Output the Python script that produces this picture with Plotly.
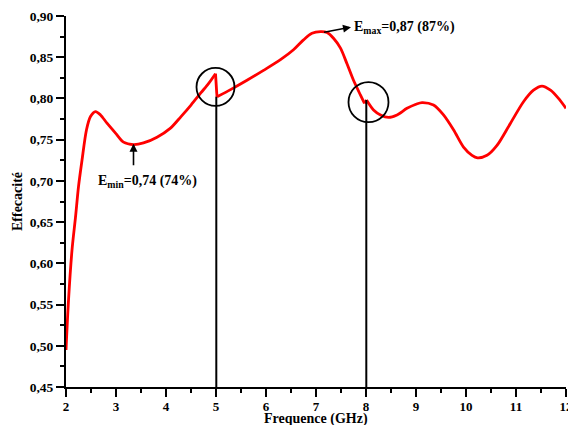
import plotly.graph_objects as go

# Efficiency curve
freq = [2.0, 2.05, 2.12, 2.19, 2.25, 2.32, 2.41, 2.49, 2.59, 2.69, 2.82, 2.99, 3.15, 3.35,
        3.55, 3.82, 4.09, 4.3, 4.5, 4.7, 4.85, 4.99, 5.02, 5.3, 5.62, 5.95, 6.29, 6.55,
        6.75, 6.92, 7.09, 7.22, 7.35, 7.49, 7.62, 7.75, 7.89, 7.97, 8.01, 8.15, 8.29,
        8.45, 8.62, 8.82, 9.0, 9.12, 9.35, 9.55, 9.75, 9.95, 10.12, 10.23, 10.42, 10.62,
        10.89, 11.15, 11.35, 11.52, 11.69, 11.85, 12.0]
eff = [0.495, 0.555, 0.616, 0.656, 0.693, 0.725, 0.762, 0.778, 0.784, 0.780, 0.770, 0.758,
       0.747, 0.744, 0.746, 0.753, 0.764, 0.778, 0.792, 0.807, 0.818, 0.830, 0.802, 0.811,
       0.822, 0.834, 0.847, 0.859, 0.871, 0.879, 0.881, 0.880, 0.873, 0.861, 0.842, 0.822,
       0.804, 0.794, 0.798, 0.786, 0.780, 0.777, 0.780, 0.788, 0.793, 0.795, 0.792, 0.780,
       0.762, 0.741, 0.731, 0.728, 0.731, 0.743, 0.770, 0.796, 0.810, 0.815, 0.810, 0.800,
       0.788]

# indices where the curve has a sharp jump (smooth segments are split there)
break_idx = [21, 37]

# Marked frequencies (vertical lines + circles)
mark_freq = [5.006, 8.006]
mark_top = [0.802, 0.798]
circle_center = [(4.99, 0.814), (8.05, 0.7955)]
circle_rx = [0.38, 0.40]
circle_ry = [0.023, 0.0243]

# Extremes
e_min = (3.35, 0.745)
e_max = (7.13, 0.880)

y_tick_vals = [0.45, 0.50, 0.55, 0.60, 0.65, 0.70, 0.75, 0.80, 0.85, 0.90]
x_tick_vals = list(range(2, 13))

serif = "Liberation Serif"
bold = dict(family=serif, size=14, color="black", weight="bold")
ytickfont = dict(family=serif, size=13.5, color="black", weight="bold")
xtickfont = dict(family=serif, size=13, color="black", weight="bold")

fig = go.Figure()
red = dict(color="#ff0000", width=2.8)
starts = [0] + [b + 1 for b in break_idx]
ends = [b + 1 for b in break_idx] + [len(freq)]
for s, e in zip(starts, ends):
    fig.add_trace(go.Scatter(x=freq[s:e], y=eff[s:e], mode="lines",
                             line=dict(shape="spline", smoothing=0.8, **red),
                             showlegend=False, hoverinfo="skip"))
for b in break_idx:
    fig.add_trace(go.Scatter(x=freq[b:b + 2], y=eff[b:b + 2], mode="lines",
                             line=red, showlegend=False, hoverinfo="skip"))

shapes = []
for f, t in zip(mark_freq, mark_top):
    shapes.append(dict(type="line", xref="x", yref="y", x0=f, x1=f, y0=0.45, y1=t,
                       line=dict(color="black", width=2)))
for (cx, cy), rx, ry in zip(circle_center, circle_rx, circle_ry):
    shapes.append(dict(type="circle", xref="x", yref="y", x0=cx - rx, x1=cx + rx,
                       y0=cy - ry, y1=cy + ry, line=dict(color="black", width=1.8)))

annotations = [
    dict(x=7.70, y=0.8865, ax=e_max[0], ay=e_max[1], axref="x", ayref="y",
         xref="x", yref="y", text="", showarrow=True, arrowhead=2, arrowsize=1,
         arrowwidth=1.6, arrowcolor="black"),
    dict(x=7.71, y=0.8855, xref="x", yref="y", xanchor="left", yanchor="middle",
         text="E<sub>max</sub>=0,87 (87%)", showarrow=False, font=bold),
    dict(x=e_min[0], y=e_min[1], ax=e_min[0], ay=0.717, axref="x", ayref="y",
         xref="x", yref="y", text="", showarrow=True, arrowhead=2, arrowsize=1,
         arrowwidth=1.6, arrowcolor="black"),
    dict(x=2.60, y=0.699, xref="x", yref="y", xanchor="left", yanchor="middle",
         text="E<sub>min</sub>=0,74 (74%)", showarrow=False, font=bold),
    dict(x=0.5, y=0, xref="paper", yref="paper", yshift=-32, xanchor="center",
         yanchor="middle", text="Frequence (GHz)", showarrow=False, font=bold),
]

axis_common = dict(showline=True, linecolor="black", linewidth=2, showgrid=False,
                   zeroline=False, ticks="outside", ticklen=8, tickwidth=2,
                   tickcolor="black", mirror=False, automargin=False)

fig.update_layout(
    width=568, height=425,
    margin=dict(l=66, r=2, t=16, b=38),
    paper_bgcolor="white", plot_bgcolor="white",
    separators=", ",
    shapes=shapes, annotations=annotations,
    xaxis=dict(range=[2, 12], tickmode="array", tickvals=x_tick_vals,
               ticklabeloverflow="allow", ticklabelstandoff=-2, tickfont=xtickfont,
               minor=dict(dtick=0.5, ticks="outside", ticklen=4, tickwidth=2,
                          tickcolor="black"),
               **axis_common),
    yaxis=dict(range=[0.45, 0.90], tickmode="array", tickvals=y_tick_vals,
               tickformat=".2f", tickfont=ytickfont,
               minor=dict(dtick=0.025, ticks="outside", ticklen=4, tickwidth=2,
                          tickcolor="black"),
               title=dict(text="Effecacité", font=bold, standoff=4),
               **axis_common),
)

fig.write_html("out.html")
